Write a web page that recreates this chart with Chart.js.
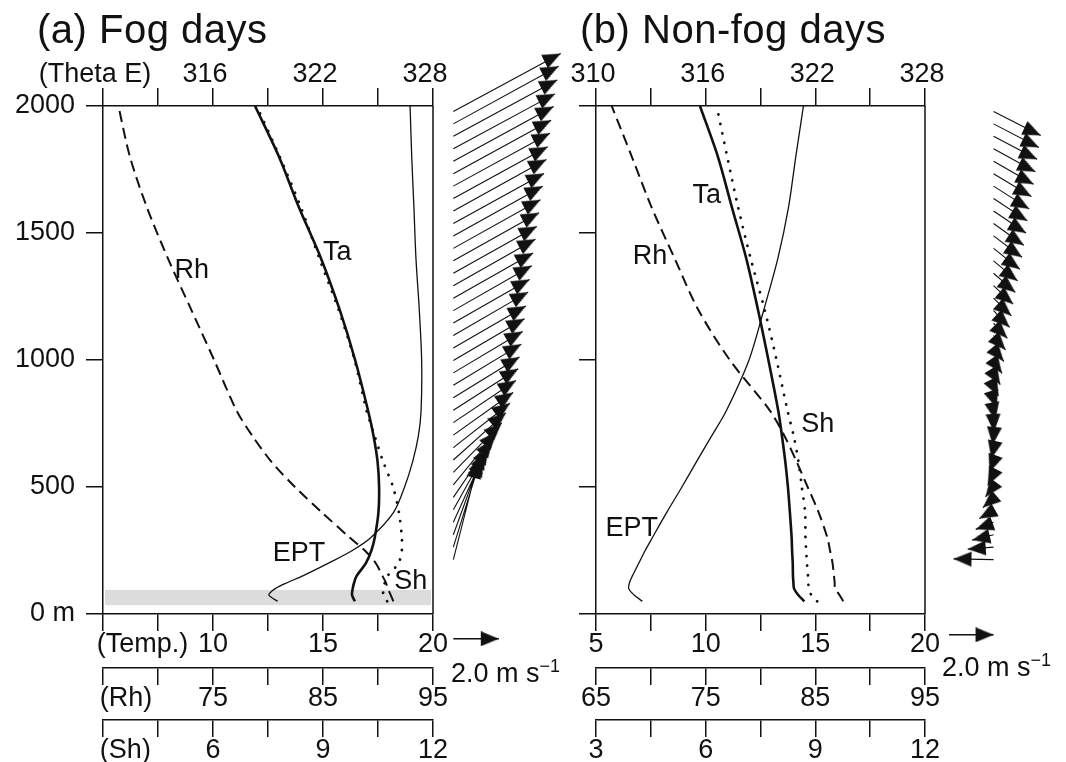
<!DOCTYPE html>
<html>
<head>
<meta charset="UTF-8">
<title>Vertical profiles on fog and non-fog days</title>
<script src="https://cdn.jsdelivr.net/npm/chart.js@4.4.1/dist/chart.umd.min.js"></script>
<style>
  html, body { margin: 0; padding: 0; background: #fff; }
  #fig { position: relative; width: 1066px; height: 762px; overflow: hidden; background: #fff;
         font-family: "Liberation Sans", Arial, sans-serif; color: #111; }
  #fig canvas { position: absolute; top: 0; }
  .panel-title { position: absolute; top: 9px; font-size: 40px; line-height: 40px; letter-spacing: 0.5px; white-space: nowrap; }
  .scale-note { position: absolute; font-size: 27px; line-height: 27px; white-space: nowrap; }
  .scale-note sup { font-size: 18px; line-height: 0; position: relative; top: -10px; vertical-align: baseline; }
</style>
</head>
<body>
<div id="fig">
  <canvas id="profA" width="470" height="762" style="left:0"></canvas>
  <canvas id="windA" width="166" height="762" style="left:434px"></canvas>
  <canvas id="profB" width="450" height="762" style="left:520px"></canvas>
  <canvas id="windB" width="136" height="762" style="left:930px"></canvas>
  <div class="panel-title" style="left:37px">(a) Fog days</div>
  <div class="panel-title" style="left:580px">(b) Non-fog days</div>
  <div class="scale-note" style="left:451px;top:660px">2.0 m s<sup>−1</sup></div>
  <div class="scale-note" style="left:942px;top:654px">2.0 m s<sup>−1</sup></div>
</div>
<script>
var heights = [50, 75, 100, 125, 150, 200, 250, 300, 400, 500, 600, 700, 800, 1000, 1200, 1400, 1600, 1800, 2000];

// (a) fog days
var fogTa  = [16.45, 16.32, 16.35, 16.42, 16.53, 16.95, 17.2, 17.35, 17.52, 17.55, 17.48, 17.30, 17.05, 16.46, 15.75, 14.91, 13.91, 13.0, 11.91];
var fogRh  = [91.4, 91.15, 90.9, 90.7, 90.4, 89.8, 88.8, 87.45, 84.9, 82.45, 80.3, 78.6, 77.15, 75.1, 73.0, 70.9, 69.0, 67.45, 66.4];
var fogSh  = [10.75, 10.65, 10.64, 10.69, 10.76, 11.06, 11.15, 11.15, 11.07, 10.91, 10.64, 10.41, 10.19, 9.86, 9.42, 8.90, 8.40, 7.82, 7.19];
var fogEpt = [319.53, 319.05, 319.4, 320.1, 320.9, 322.3, 323.6, 324.6, 325.85, 326.45, 326.89, 327.2, 327.35, 327.38, 327.25, 327.07, 326.96, 326.84, 326.75];
var fogLayer = [35, 95];   // shaded fog layer, m

// (b) non-fog days
var nonTa  = [14.5, 14.22, 14.03, 14.0, 13.98, 13.97, 13.94, 13.92, 13.84, 13.75, 13.63, 13.48, 13.31, 12.86, 12.38, 11.85, 11.2, 10.56, 9.74];
var nonRh  = [87.55, 87.2, 86.8, 86.76, 86.7, 86.57, 86.34, 86.1, 85.3, 84.3, 83.29, 82.2, 80.87, 77.2, 74.3, 72.17, 70.08, 68.27, 66.43];
var nonSh  = [9.05, 8.89, 8.82, 8.81, 8.80, 8.77, 8.75, 8.73, 8.72, 8.63, 8.54, 8.41, 8.24, 7.94, 7.61, 7.23, 6.89, 6.59, 6.30];
var nonEpt = [312.54, 312.08, 311.79, 311.84, 311.99, 312.34, 312.69, 313.08, 313.87, 314.7, 315.5, 316.32, 317.13, 318.37, 319.19, 319.95, 320.53, 320.93, 321.35];

// wind vectors (m/s), every 50 m
var windHeights = [2000, 1950, 1900, 1850, 1800, 1750, 1700, 1650, 1600, 1550, 1500, 1450, 1400, 1350, 1300, 1250, 1200, 1150, 1100, 1050,
                   1000, 950, 900, 850, 800, 750, 700, 650, 600, 550, 500, 450, 400, 350, 300, 250, 200];
var fogU = [4.72, 4.63, 4.57, 4.47, 4.41, 4.30, 4.25, 4.15, 4.09, 3.99, 3.93, 3.83, 3.77, 3.67, 3.61, 3.51, 3.45, 3.35, 3.29, 3.19,
            3.13, 3.05, 2.99, 2.91, 2.85, 2.75, 2.63, 2.49, 2.31, 2.13, 1.91, 1.73, 1.55, 1.41, 1.27, 1.21, 1.11];
var fogV = [2.36, 2.35, 2.30, 2.24, 2.23, 2.18, 2.16, 2.11, 2.10, 2.04, 2.03, 1.98, 1.96, 1.91, 1.90, 1.84, 1.83, 1.78, 1.77, 1.71,
            1.70, 1.69, 1.68, 1.66, 1.69, 1.72, 1.74, 1.81, 1.92, 2.02, 2.17, 2.36, 2.58, 2.89, 3.24, 3.62, 4.05];
var nonU = [2.12, 2.04, 1.96, 1.88, 1.80, 1.70, 1.60, 1.52, 1.46, 1.36, 1.28, 1.18, 1.08, 0.98, 0.88, 0.80, 0.72, 0.62, 0.54, 0.46,
            0.38, 0.30, 0.22, 0.14, 0.08, 0.02, -0.04, -0.10, -0.18, -0.26, -0.36, -0.48, -0.64, -0.80, -0.96, -1.16, -1.80];
var nonV = [-0.98, -0.96, -0.94, -0.94, -0.94, -0.93, -0.93, -0.91, -0.90, -0.89, -0.87, -0.85, -0.82, -0.78, -0.75, -0.72, -0.68, -0.62, -0.59, -0.55,
            -0.53, -0.48, -0.44, -0.42, -0.41, -0.38, -0.40, -0.45, -0.50, -0.52, -0.49, -0.42, -0.36, -0.29, -0.22, -0.08, 0.03];
var refSpeed = 2.0;

// tick labels
var thetaLabelsFog = [316, 322, 328], thetaLabelsNon = [310, 316, 322, 328];
var tempLabelsFog  = [10, 15, 20],    tempLabelsNon  = [5, 10, 15, 20];
var rhLabelsFog    = [75, 85, 95],    rhLabelsNon    = [65, 75, 85, 95];
var shLabelsFog    = [6, 9, 12],      shLabelsNon    = [3, 6, 9, 12];

// curve names, placed on the temperature scale
var fogNames = [{ text: 'Rh', t: 9.03, h: 1352 }, { text: 'Ta', t: 15.65, h: 1424 }, { text: 'EPT', t: 13.91, h: 239 }, { text: 'Sh', t: 18.99, h: 127 }];
var nonNames = [{ text: 'Ta', t: 10.05, h: 1647 }, { text: 'Rh', t: 7.46, h: 1407 }, { text: 'Sh', t: 15.11, h: 744 }, { text: 'EPT', t: 6.63, h: 337 }];

var INK = '#111';
var FONT = '"Liberation Sans", Arial, sans-serif';
var TICK_FONT = { family: FONT, size: 27, lineHeight: 1 };
var PLOT_TOP = 106, PLOT_BOTTOM = 614, FIG_H = 762;
var M_PER_PX = 2000 / (PLOT_BOTTOM - PLOT_TOP);
var PX_PER_MS = 25;                       // 2.0 m/s arrow is 50 px long
var M_PER_MS = PX_PER_MS * M_PER_PX;

function xAxis(o) {
  var hasName = o.name && o.nameAt !== o.min;
  return {
    type: 'linear', position: o.pos, min: o.min, max: o.max,
    afterBuildTicks: function (s) { if (hasName) s.ticks.push({ value: o.nameAt }); },
    afterFit: function (s) { s.height = o.height; s.paddingLeft = 0; s.paddingRight = 0; },
    border: { display: true, color: INK, width: 1.5 },
    grid: {
      drawOnChartArea: false, drawTicks: true, tickLength: o.tick, lineWidth: 1.5, color: INK,
      tickColor: function (c) { return hasName && c.tick && c.tick.value === o.nameAt ? 'rgba(0,0,0,0)' : INK; }
    },
    ticks: {
      stepSize: o.step, autoSkip: false, maxRotation: 0, minRotation: 0, padding: 0,
      color: INK, font: TICK_FONT, labelOffset: o.offset || 0,
      callback: function (v) {
        if (o.name && v === o.nameAt) return o.name;
        return o.labels.indexOf(v) >= 0 ? String(v) : '';
      }
    }
  };
}

function yAxis(width, showLabels) {
  return {
    type: 'linear', position: 'left', min: 0, max: 2000,
    afterFit: function (s) { s.width = width; s.paddingTop = 0; s.paddingBottom = 0; },
    border: { display: true, color: INK, width: 1.5 },
    grid: { drawOnChartArea: false, drawTicks: true, tickLength: 17, lineWidth: 1.5, color: INK },
    ticks: {
      stepSize: 500, padding: 11, color: INK, font: TICK_FONT,
      callback: function (v) { return showLabels ? (v === 0 ? '0 m' : String(v)) : ''; }
    }
  };
}

function line(label, xs, axisId, style) {
  var ds = {
    label: label, xAxisID: axisId, yAxisID: 'y',
    data: heights.map(function (h, i) { return { x: xs[i], y: h }; }),
    showLine: true, fill: false, tension: 0.3, borderColor: INK, pointRadius: 0, borderJoinStyle: 'round'
  };
  return Object.assign(ds, style);
}

function decor(band, names) {
  return {
    id: 'decor',
    beforeDatasetsDraw: function (chart) {
      if (!band) return;
      var a = chart.chartArea, y = chart.scales.y, ctx = chart.ctx;
      var top = y.getPixelForValue(band[1]), bot = y.getPixelForValue(band[0]);
      ctx.save();
      ctx.fillStyle = '#dcdcdc';
      ctx.fillRect(a.left + 2, top, a.right - a.left - 4, bot - top);
      ctx.restore();
    },
    afterDraw: function (chart) {
      var a = chart.chartArea, ctx = chart.ctx, xs = chart.scales.xT, y = chart.scales.y;
      ctx.save();
      ctx.strokeStyle = INK; ctx.lineWidth = 1.5;
      ctx.beginPath(); ctx.moveTo(a.right, a.top); ctx.lineTo(a.right, a.bottom); ctx.stroke();
      ctx.fillStyle = INK; ctx.font = '27px ' + FONT;
      ctx.textAlign = 'center'; ctx.textBaseline = 'middle';
      names.forEach(function (n) { ctx.fillText(n.text, xs.getPixelForValue(n.t), y.getPixelForValue(n.h)); });
      ctx.restore();
    }
  };
}

function profileChart(id, p) {
  return new Chart(document.getElementById(id), {
    type: 'scatter',
    data: { datasets: [
      line('Rh', p.rh, 'xRh', { borderWidth: 2, borderDash: [11, 6] }),
      line('Ta', p.ta, 'xT', { borderWidth: 2.6 }),
      line('Sh', p.sh, 'xSh', { borderWidth: 2.8, borderDash: [0.1, 9.5], borderCapStyle: 'round' }),
      line('EPT', p.ept, 'xTh', { borderWidth: 1.3 })
    ]},
    options: {
      responsive: false, animation: false, events: [],
      layout: { padding: { top: 56, right: p.padRight, bottom: 0, left: 0 } },
      plugins: { legend: { display: false }, tooltip: { enabled: false } },
      scales: {
        y: yAxis(p.yWidth, p.yLabels),
        xT: xAxis({ pos: 'bottom', min: 5, max: 20, step: 2.5, labels: p.tempLabels, name: p.tempName, nameAt: 6.8, height: 54, tick: 17 }),
        xRh: xAxis({ pos: 'bottom', min: 65, max: 95, step: 5, labels: p.rhLabels, name: p.rhName, nameAt: 67.1, height: 52, tick: 17 }),
        xSh: xAxis({ pos: 'bottom', min: 3, max: 12, step: 1.5, labels: p.shLabels, name: p.shName, nameAt: 3.61, height: 42, tick: 17 }),
        xTh: xAxis({ pos: 'top', min: 310, max: 328, step: 3, labels: p.thetaLabels, name: p.thetaName, nameAt: 310, height: 50, tick: 18, offset: p.thetaOffset })
      }
    },
    plugins: [decor(p.band, p.names)]
  });
}

// arrowhead pointing up, tip at the image centre
var arrowHead = (function () {
  var c = document.createElement('canvas');
  c.width = 15; c.height = 38;
  var g = c.getContext('2d');
  g.fillStyle = INK;
  g.beginPath(); g.moveTo(7.5, 19); g.lineTo(15, 37); g.lineTo(0, 37); g.closePath(); g.fill();
  return c;
})();

function windChart(id, left, width, originPx, us, vs, refTail, refHeight) {
  var pts = [];
  windHeights.forEach(function (h, i) {
    pts.push({ x: 0, y: h });
    pts.push({ x: us[i], y: h + vs[i] * M_PER_MS, head: Math.atan2(us[i], vs[i]) * 180 / Math.PI });
    pts.push({ x: null, y: null });
  });
  var ref = [{ x: refTail, y: refHeight }, { x: refTail + refSpeed, y: refHeight, head: 90 }];
  var arrowStyle = {
    showLine: true, spanGaps: false, borderColor: INK, borderWidth: 1.1, tension: 0, clip: false,
    pointStyle: arrowHead,
    pointRadius: function (c) { return c.raw && c.raw.head !== undefined ? 6 : 0; },
    pointRotation: function (c) { return c.raw && c.raw.head !== undefined ? c.raw.head : 0; }
  };
  return new Chart(document.getElementById(id), {
    type: 'scatter',
    data: { datasets: [
      Object.assign({ label: 'wind', data: pts }, arrowStyle),
      Object.assign({ label: '2.0 m/s', data: ref }, arrowStyle, { borderWidth: 1.5 })
    ]},
    options: {
      responsive: false, animation: false, events: [],
      layout: { padding: 0 },
      plugins: { legend: { display: false }, tooltip: { enabled: false } },
      scales: {
        x: { type: 'linear', display: false, min: (0 - (originPx - left)) / PX_PER_MS, max: (width - (originPx - left)) / PX_PER_MS },
        y: { type: 'linear', display: false, min: -(FIG_H - PLOT_BOTTOM) * M_PER_PX, max: 2000 + PLOT_TOP * M_PER_PX }
      }
    }
  });
}

profileChart('profA', {
  ta: fogTa, rh: fogRh, sh: fogSh, ept: fogEpt, band: fogLayer, names: fogNames,
  yWidth: 103, yLabels: true, padRight: 37, thetaOffset: -8,
  thetaLabels: thetaLabelsFog, thetaName: '(Theta E)',
  tempLabels: tempLabelsFog, tempName: '(Temp.)',
  rhLabels: rhLabelsFog, rhName: '(Rh)',
  shLabels: shLabelsFog, shName: '(Sh)'
});

profileChart('profB', {
  ta: nonTa, rh: nonRh, sh: nonSh, ept: nonEpt, band: null, names: nonNames,
  yWidth: 76, yLabels: false, padRight: 45, thetaOffset: -3,
  thetaLabels: thetaLabelsNon, thetaName: null,
  tempLabels: tempLabelsNon, tempName: null,
  rhLabels: rhLabelsNon, rhName: null,
  shLabels: shLabelsNon, shName: null
});

windChart('windA', 434, 166, 447, fogU, fogV, 0, -118);
windChart('windB', 930, 136, 993, nonU, nonV, -2.0, -102);
</script>
</body>
</html>
